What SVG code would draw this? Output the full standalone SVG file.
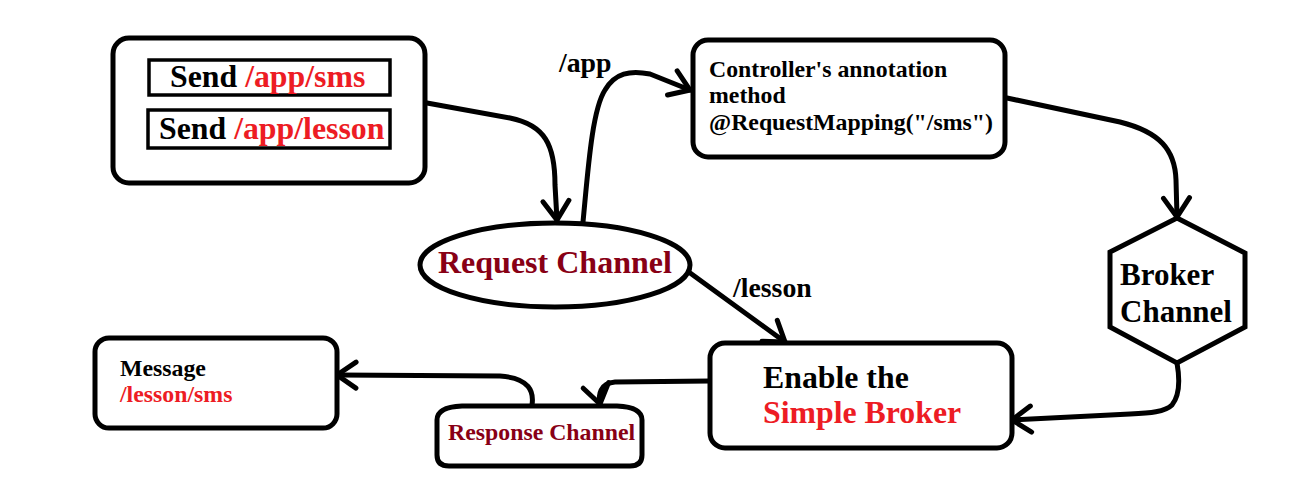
<svg xmlns="http://www.w3.org/2000/svg" width="1306" height="485" viewBox="0 0 1306 485">
  <style>
    .shape { fill: #ffffff; stroke: #000000; stroke-width: 5; }
    .inner { fill: #ffffff; stroke: #000000; stroke-width: 3.5; }
    .conn { fill: none; stroke: #000000; stroke-width: 5; stroke-linecap: round; stroke-linejoin: round; }
    text { font-family: "Liberation Serif", "Times New Roman", serif; font-weight: bold; fill: #000000; }
    .red { fill: #ED1C24; }
    .dred { fill: #880015; }
    .big { font-size: 31.8px; }
    .small { font-size: 23.8px; }
    .label { font-size: 27.8px; }
  </style>
  <defs>
    <marker id="arrow" viewBox="-24 -17 28 34" refX="0" refY="0" markerWidth="28" markerHeight="34" markerUnits="userSpaceOnUse" orient="auto">
      <path d="M-19,-13 L0,0 L-19,13" fill="none" stroke="#000000" stroke-width="5" stroke-linecap="round" stroke-linejoin="miter"/>
    </marker>
  </defs>
  <rect width="1306" height="485" fill="#ffffff"/>

  <g id="connectors">
    <path class="conn" d="M427,103 L510,118 C545,125 555,145 555,185 L557,220" marker-end="url(#arrow)"/>
    <path class="conn" d="M583,222 C588,170 592,110 605,90 C615,73 630,70 650,74 L690,90" marker-end="url(#arrow)"/>
    <path class="conn" d="M1007,98 L1120,122 C1160,132 1175,150 1176,180 L1177,217" marker-end="url(#arrow)"/>
    <path class="conn" d="M1177,363 C1180,380 1180,395 1172,405 C1165,412 1150,413 1130,414 L1012,420" marker-end="url(#arrow)"/>
    <path class="conn" d="M686,270 L785,342" marker-end="url(#arrow)"/>
    <path class="conn" d="M710,381 L615,382 C600,383 598,395 600,404" marker-end="url(#arrow)"/>
    <path class="conn" d="M532,405 C534,392 530,378 500,376 L337,375" marker-end="url(#arrow)"/>
    <text class="label" x="559" y="72">/app</text>
    <text class="label" x="733" y="297">/lesson</text>
  </g>

  <g id="sender">
    <rect class="shape" x="113" y="38" width="312" height="145" rx="16"/>
    <rect class="inner" x="149" y="60" width="241" height="35"/>
    <rect class="inner" x="148" y="110" width="242" height="38"/>
    <text class="big" x="170" y="87">Send <tspan class="red">/app/sms</tspan></text>
    <text class="big" x="159" y="139">Send <tspan class="red">/app/lesson</tspan></text>
  </g>

  <g id="controller">
    <rect class="shape" x="693" y="40" width="312" height="117" rx="15"/>
    <text class="small" x="709" y="77">Controller's annotation</text>
    <text class="small" x="709" y="103">method</text>
    <text class="small" x="709" y="130">@RequestMapping("/sms")</text>
  </g>

  <g id="request-channel">
    <ellipse class="shape" cx="555" cy="265" rx="135" ry="42"/>
    <text class="big dred" x="438" y="273" style="font-size:32px">Request Channel</text>
  </g>

  <g id="broker-channel">
    <polygon class="shape" points="1177,218 1245,253 1245,327 1177,363 1110,327 1110,252"/>
    <text class="big" x="1120" y="285" style="font-size:31px">Broker</text>
    <text class="big" x="1120" y="322" style="font-size:31px">Channel</text>
  </g>

  <g id="simple-broker">
    <rect class="shape" x="710" y="343" width="302" height="105" rx="15"/>
    <text class="big" x="763" y="388">Enable the</text>
    <text class="big red" x="763" y="423">Simple Broker</text>
  </g>

  <g id="message">
    <rect class="shape" x="95" y="338" width="242" height="90" rx="14"/>
    <text class="small" x="120" y="376">Message</text>
    <text class="small red" x="120" y="402">/lesson/sms</text>
  </g>

  <g id="response-channel">
    <path class="shape" d="M437,455 L437,420 Q437,407 462,406 L617,406 Q642,407 642,420 L642,455 Q642,466 630,466 L449,466 Q437,466 437,455 Z"/>
    <text class="small dred" x="448" y="440">Response Channel</text>
  </g>
</svg>
